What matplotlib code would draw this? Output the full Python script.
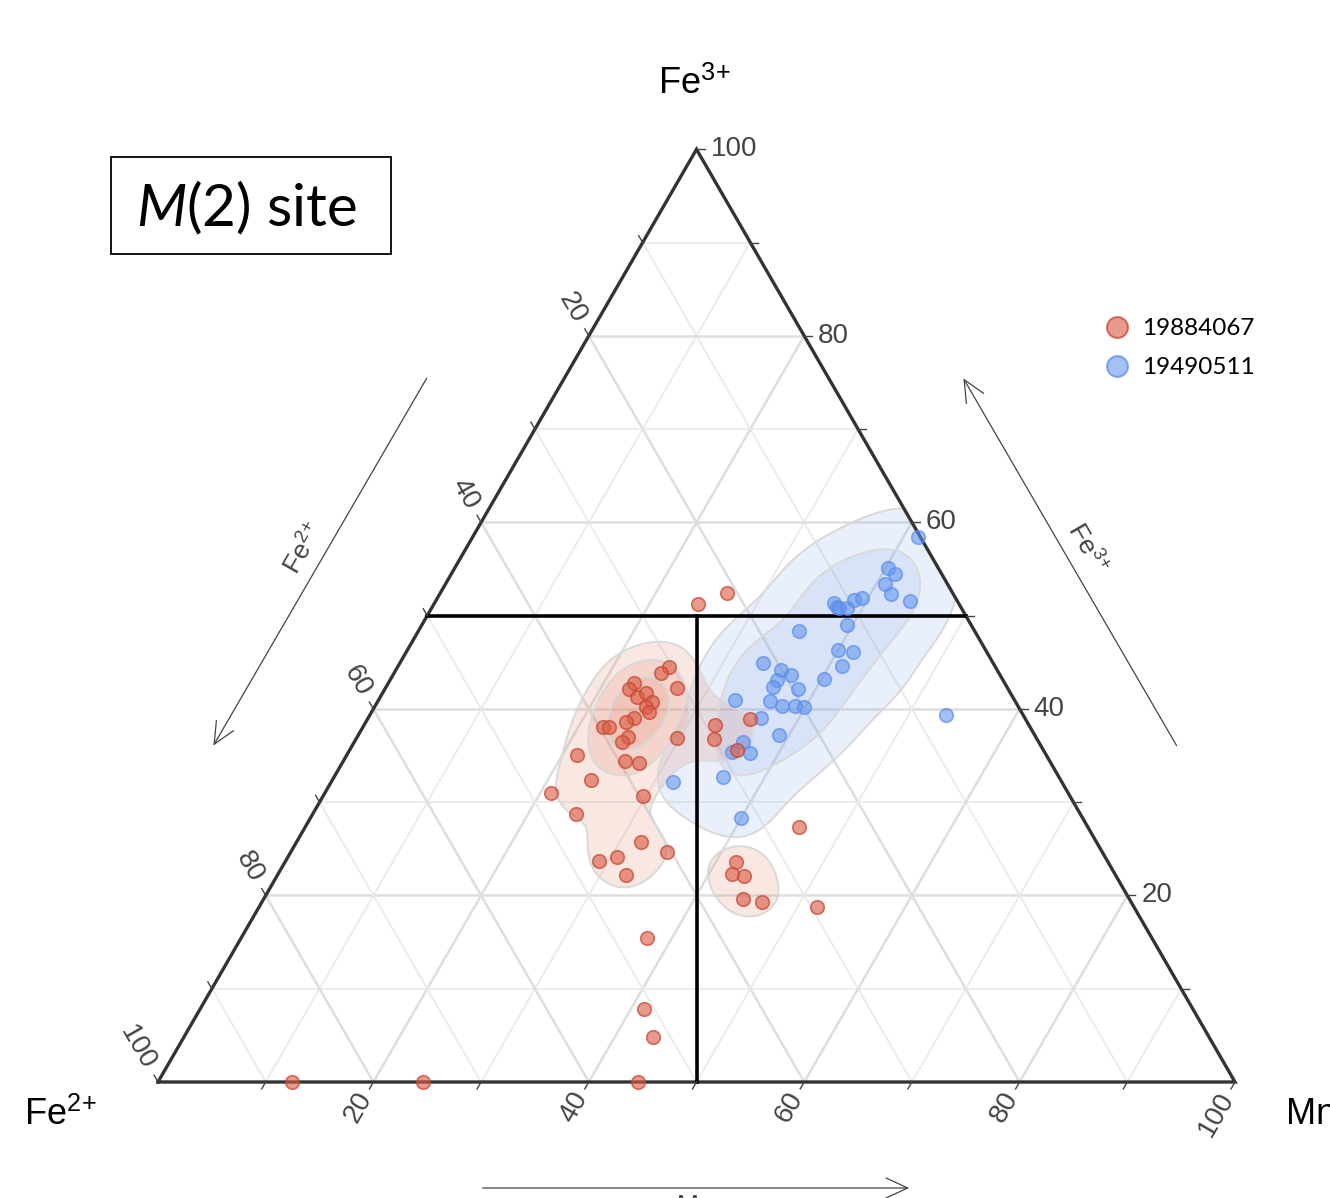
import numpy as np
import matplotlib
matplotlib.use("Agg")
import matplotlib.pyplot as plt
from matplotlib.patches import Rectangle, FancyArrowPatch
from matplotlib.lines import Line2D

# ---------------- data (ternary %, Fe2+ = 100 - Mn - Fe3+) ----------------
red_label = "19884067"
blue_label = "19490511"

red_mn = [24.5, 26.6, 25.2, 24.8, 27.1, 22.8, 22.7, 23.8, 24.5, 25.5, 25.2, 25.7,
          24.7, 24.2, 22.3, 22.8, 25.1, 24.9, 29.7, 21.4, 26.2, 27.6, 24.0, 21.0,
          29.7, 24.5, 35.5, 32.6, 33.2, 36.0, 32.0, 34.9, 29.1, 30.6, 32.4, 45.9,
          41.9, 42.1, 43.4, 44.5, 46.4, 51.8, 37.7, 41.2, 43.6, 44.6, 12.4, 24.6]
red_fe3 = [51.3, 52.4, 44.5, 43.8, 42.2, 42.8, 42.1, 41.3, 41.7, 40.7, 40.2, 39.7,
           39.0, 38.6, 38.1, 38.1, 37.0, 36.4, 36.9, 35.1, 34.4, 34.2, 32.4, 31.0,
           30.7, 28.7, 38.9, 38.3, 36.8, 35.6, 25.7, 24.7, 23.7, 24.1, 22.2, 27.3,
           23.6, 22.3, 22.1, 19.6, 19.3, 18.8, 15.4, 7.8, 4.8, 0.0, 0.0, 0.0]

blue_mn = [41.4, 40.2, 41.2, 40.8, 41.9, 44.0, 37.1, 37.6, 37.8, 38.6, 38.8, 39.4,
           39.5, 35.3, 40.0, 41.5, 41.2, 33.7, 35.7, 37.0, 35.9, 35.9, 40.2, 38.4,
           36.4, 37.8, 39.0, 39.9, 33.1, 36.5, 39.1, 36.1, 35.6, 37.3, 36.1, 53.5,
           31.7, 40.0]
blue_fe3 = [58.4, 55.1, 54.5, 53.4, 52.3, 51.6, 51.4, 50.9, 50.8, 50.8, 51.7, 51.9,
            49.0, 48.4, 46.3, 46.1, 44.6, 44.9, 44.2, 43.6, 43.1, 42.4, 43.2, 42.1,
            40.9, 40.3, 40.3, 40.2, 41.0, 39.0, 37.2, 36.4, 35.4, 35.3, 32.7, 39.4,
            32.2, 28.3]

tick_values = [20, 40, 60, 80, 100]
grid_values = [10, 20, 30, 40, 50, 60, 70, 80, 90]

# ---------------- layout helpers ----------------
W, H = 1330, 1198
S = 1077.0          # pixels per triangle side
X0, Y0 = 158.0, 1082.0
R3 = np.sqrt(3) / 2


def px(xp, yp):
    return (xp - X0) / S, (Y0 - yp) / S


def tern(mn, fe3):
    mn = np.asarray(mn, dtype=float) / 100.0
    fe3 = np.asarray(fe3, dtype=float) / 100.0
    return mn + fe3 / 2.0, fe3 * R3


plt.rcParams["mathtext.fontset"] = "custom"
plt.rcParams["mathtext.rm"] = "Liberation Sans"
plt.rcParams["mathtext.it"] = "Lato:italic"

FE3 = r"Fe$^{3}$$^{+}$"
FE2 = r"Fe$^{2}$$^{+}$"

fig = plt.figure(figsize=(W / 100, H / 100), dpi=100)
ax = fig.add_axes([0, 0, 1, 1])
ax.set_xlim(-X0 / S, (W - X0) / S)
ax.set_ylim(-(H - Y0) / S, Y0 / S)
ax.axis("off")

# ---------------- grid ----------------
for v in grid_values:
    major = (v % 20 == 0)
    col = "#dedede" if major else "#eaeaea"
    lw = 1.8 if major else 1.3
    segs = [((0, v), (100 - v, v)),            # Fe3+ constant
            ((v, 0), (v, 100 - v)),            # Mn constant
            ((100 - v, 0), (0, 100 - v))]      # Fe2+ constant
    for a, b in segs:
        xa, ya = tern(*a)
        xb, yb = tern(*b)
        ax.plot([xa, xb], [ya, yb], color=col, lw=lw, zorder=1)

# ---------------- density contours ----------------
gx, gy = np.meshgrid(np.linspace(0, 1, 400), np.linspace(0, R3, 350))
outside = (gy > 2 * R3 * gx + 1e-9) | (gy > 2 * R3 * (1 - gx) + 1e-9)


def density(mn, fe3, h):
    xs, ys = tern(mn, fe3)
    d = np.zeros_like(gx)
    for x, y in zip(xs, ys):
        d += np.exp(-((gx - x) ** 2 + (gy - y) ** 2) / (2 * h * h))
    d = d / d.max()
    return np.ma.masked_where(outside, d)


def draw_density(z, levels, color, alpha):
    for lv in levels:
        ax.contourf(gx, gy, z, levels=[lv, 2], colors=[color], alpha=alpha, zorder=2)
    ax.contour(gx, gy, z, levels=levels, colors="#d9d9d9", linewidths=1.4, zorder=2.5)


zr = density(red_mn, red_fe3, 0.026)
zb = density(blue_mn, blue_fe3, 0.033)
draw_density(zb, [0.11, 0.40], "#6f9ae8", 0.14)
draw_density(zr, [0.22, 0.45, 0.72], "#e0826a", 0.19)

# ---------------- triangle frame ----------------
corners_x, corners_y = tern([0, 100, 0, 0], [0, 0, 100, 0])
ax.plot(corners_x, corners_y, color="#333333", lw=2.4, zorder=4, solid_joinstyle="miter")

# black dividing lines: Fe3+ = 50 and Mn = Fe2+
hx, hy = tern([0, 50], [50, 50])
ax.plot(hx, hy, color="black", lw=2.6, zorder=4)
vx, vy = tern([25, 50], [50, 0])
ax.plot(vx, vy, color="black", lw=2.6, zorder=4)

# ---------------- ticks and labels ----------------
tl = 8 / S
tick_col = "#444444"
tick_font = dict(family="Liberation Sans", size=20, color="#444444")
for v in [10, 20, 30, 40, 50, 60, 70, 80, 90, 100]:
    # right axis Fe3+
    x, y = tern(100 - v, v)
    ax.plot([x, x + tl], [y, y], color=tick_col, lw=1.0, zorder=4)
    # left axis Fe2+ (tick up-left)
    x2, y2 = tern(0, 100 - v)
    d2 = np.array([-0.5, R3])
    ax.plot([x2, x2 + d2[0] * tl], [y2, y2 + d2[1] * tl], color=tick_col, lw=1.0, zorder=4)
    # bottom axis Mn (tick down-left)
    x3, y3 = tern(v, 0)
    d3 = np.array([-0.5, -R3])
    ax.plot([x3, x3 + d3[0] * tl], [y3, y3 + d3[1] * tl], color=tick_col, lw=1.0, zorder=4)
    if v in tick_values:
        ax.text(x + 14 / S, y, str(v), ha="left", va="center", **tick_font)
        g = 17 / S
        ax.text(x2 + d2[0] * g, y2 + d2[1] * g, str(v), rotation=-60, rotation_mode="anchor",
                ha="right", va="center", **tick_font)
        g = 14 / S
        ax.text(x3 + d3[0] * g, y3 + d3[1] * g, str(v), rotation=60, rotation_mode="anchor",
                ha="right", va="center", **tick_font)

# ---------------- vertex titles ----------------
title_font = dict(family="Liberation Sans", size=26, color="black")
ax.text(*px(695, 84), FE3, ha="center", va="center", **title_font)
ax.text(*px(24, 1115), FE2, ha="left", va="center", **title_font)
ax.text(*px(1286, 1115), "Mn", ha="left", va="center", **title_font)

# ---------------- direction arrows ----------------
arrow_kw = dict(arrowstyle="->,head_length=1.3,head_width=0.6", color="#444444", lw=0.9,
                mutation_scale=12, zorder=4)
ax.add_patch(FancyArrowPatch(px(428, 376), px(212, 748), **arrow_kw))
ax.add_patch(FancyArrowPatch(px(1178, 748), px(962, 376), **arrow_kw))
ax.add_patch(FancyArrowPatch(px(480, 1188), px(912, 1188), **arrow_kw))
arr_font = dict(family="Liberation Sans", size=19, color="#444444")
ax.text(*px(303, 548), FE2, rotation=60, ha="center", va="center", **arr_font)
ax.text(*px(1088, 548), FE3, rotation=-60, ha="center", va="center", **arr_font)
ax.text(*px(695, 1194), "Mn", ha="center", va="top", **arr_font)

# ---------------- points ----------------
red_face = (0.86, 0.36, 0.27, 0.62)
red_edge = (0.78, 0.28, 0.20, 0.75)
blue_face = (0.38, 0.58, 0.93, 0.58)
blue_edge = (0.35, 0.55, 0.92, 0.70)
rx, ry = tern(red_mn, red_fe3)
bx, by = tern(blue_mn, blue_fe3)
ax.scatter(bx, by, s=95, facecolors=[blue_face], edgecolors=[blue_edge], linewidths=1.2, zorder=5)
ax.scatter(rx, ry, s=95, facecolors=[red_face], edgecolors=[red_edge], linewidths=1.2, zorder=6)

# ---------------- legend ----------------
handles = [Line2D([], [], ls="none", marker="o", markersize=15, mfc=red_face, mec=red_edge, mew=1.5),
           Line2D([], [], ls="none", marker="o", markersize=15, mfc=blue_face, mec=blue_edge, mew=1.5)]
fig.legend(handles, [red_label, blue_label], loc="upper left",
           bbox_to_anchor=(1093 / W, 1 - 318 / H), frameon=False,
           prop=dict(family="Lato", size=17.5), handletextpad=0.0, labelspacing=0.75,
           borderpad=0, borderaxespad=0)

# ---------------- site box ----------------
bx0, by0 = px(111, 254)
bx1, by1 = px(391, 157)
ax.add_patch(Rectangle((bx0, by0), bx1 - bx0, by1 - by0, fill=False, ec="black", lw=1.3, zorder=7))
ax.text(*px(247, 208), r"$M$(2) site", ha="center", va="center", family="Lato", size=42,
        color="black", zorder=7)

fig.savefig("out.png", dpi=100)
